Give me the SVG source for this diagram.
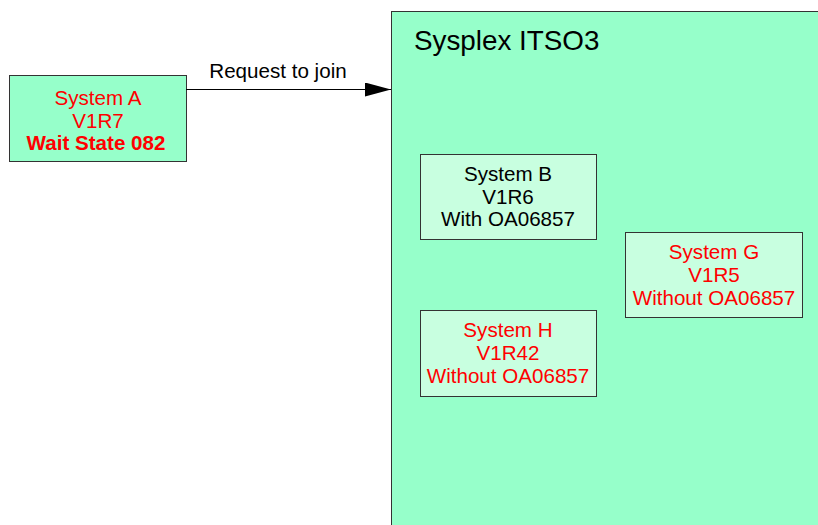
<svg xmlns="http://www.w3.org/2000/svg" width="818" height="525" viewBox="0 0 818 525">
<defs>
<style>
text{font-family:"Liberation Sans",Arial,sans-serif;font-size:20.6px;text-anchor:middle}
.red{fill:#ff0000}
.blk{fill:#000}
.inner{fill:#c8ffe0;stroke:#333;stroke-width:1}
</style>
<marker id="arr" markerWidth="26" markerHeight="14" refX="26" refY="7" orient="auto" markerUnits="userSpaceOnUse">
<path d="M0,0 L26,7 L0,14 Z" fill="#000"/>
</marker>
</defs>
<rect width="818" height="525" fill="#fff"/>
<g id="sysplex">
<rect x="391.5" y="11.5" width="440" height="530" fill="#96ffca" stroke="#333" stroke-width="1"/>
<text x="414" y="50" style="font-size:27.8px;text-anchor:start">Sysplex ITSO3</text>
</g>
<g id="systemA">
<rect x="9.5" y="75.5" width="177" height="86" fill="#96ffca" stroke="#333" stroke-width="1"/>
<text x="98" y="105" class="red">System A</text>
<text x="98" y="128" class="red">V1R7</text>
<text x="96" y="150" class="red" font-weight="bold">Wait State 082</text>
</g>
<g id="systemB">
<rect x="420.5" y="154.5" width="176" height="85" class="inner"/>
<text x="508" y="181" class="blk">System B</text>
<text x="508" y="204" class="blk">V1R6</text>
<text x="508" y="226" class="blk">With OA06857</text>
</g>
<g id="systemG">
<rect x="625.5" y="232.5" width="177" height="85" class="inner"/>
<text x="714" y="259" class="red">System G</text>
<text x="714" y="282" class="red">V1R5</text>
<text x="714" y="305" class="red">Without OA06857</text>
</g>
<g id="systemH">
<rect x="420.5" y="310.5" width="176" height="86" class="inner"/>
<text x="508" y="337" class="red">System H</text>
<text x="508" y="360" class="red">V1R42</text>
<text x="508" y="383" class="red">Without OA06857</text>
</g>
<g id="connectors">
<line x1="186" y1="89.5" x2="391" y2="89.5" stroke="#000" stroke-width="1" marker-end="url(#arr)"/>
<text x="278" y="78" style="font-size:20.6px">Request to join</text>
</g>
</svg>
